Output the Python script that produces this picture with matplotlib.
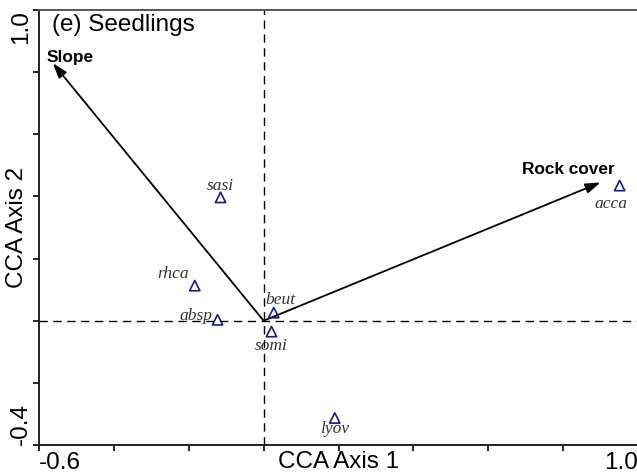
import matplotlib
matplotlib.use("Agg")
import matplotlib.pyplot as plt

# Data
species = ["sasi", "acca", "rhca", "absp", "beut", "somi", "lyov"]
sp_x = [-0.115, 0.951, -0.184, -0.123, 0.027, 0.021, 0.190]
sp_y = [0.397, 0.435, 0.113, 0.003, 0.026, -0.035, -0.313]

env_names = ["Slope", "Rock cover"]
env_x = [-0.563, 0.900]
env_y = [0.829, 0.445]

xticks = [-0.6, -0.4, -0.2, 0.0, 0.2, 0.4, 0.6, 0.8, 1.0]
xticklabels = ["-0.6", "", "", "", "", "", "", "", "1.0"]
yticks = [-0.4, -0.2, 0.0, 0.2, 0.4, 0.6, 0.8, 1.0]
yticklabels = ["-0.4", "", "", "", "", "", "", "1.0"]

W, H = 637, 474
fig = plt.figure(figsize=(W / 100, H / 100), dpi=100)
ax = fig.add_axes([39 / W, (H - 445) / H, 599 / W, 435 / H])
ax.set_xlim(-0.6, 1.0)
ax.set_ylim(-0.4, 1.0)

sans = "Liberation Sans"
serif = "Liberation Serif"

# dashed zero lines
ax.axhline(0, color="black", lw=1.0, ls=(0, (6, 4)), zorder=1)
ax.axvline(0, color="black", lw=1.0, ls=(0, (6, 4)), zorder=1)

# environmental arrows
for name, ex, ey in zip(env_names, env_x, env_y):
    ax.annotate("", xy=(ex, ey), xytext=(0, 0),
                arrowprops=dict(arrowstyle="-|>,head_length=0.9,head_width=0.3",
                                color="black", lw=1.3, shrinkA=0, shrinkB=0),
                zorder=3)

ax.text(-0.581, 0.848, env_names[0], family=sans,
        fontweight="bold", fontsize=12.4, ha="left", va="center")
ax.text(0.937, 0.487, env_names[1], family=sans,
        fontweight="bold", fontsize=12.4, ha="right", va="center")

# species points
ax.scatter(sp_x, sp_y, marker="^", s=55, facecolors="none",
           edgecolors="#1a1a8c", linewidths=1.2, zorder=4)

# (dx, dy, ha) in data units, baseline-anchored
offsets = {
    "sasi": (0.0, 0.023, "center"),
    "acca": (-0.023, -0.071, "center"),
    "rhca": (-0.057, 0.023, "center"),
    "absp": (-0.013, 0.0, "right"),
    "beut": (0.019, 0.029, "center"),
    "somi": (0.0, -0.058, "center"),
    "lyov": (0.0, -0.048, "center"),
}
for name, x, y in zip(species, sp_x, sp_y):
    dx, dy, ha = offsets[name]
    ax.text(x + dx, y + dy, name, family=serif, style="italic",
            fontsize=12.5, color="#333333", ha=ha, va="baseline", zorder=5)

ax.text(-0.565, 0.952, "(e) Seedlings", family=sans, fontsize=17.5,
        ha="left", va="center")

ax.set_xticks(xticks)
ax.set_xticklabels(xticklabels, family=sans, fontsize=17.5)
ax.set_yticks(yticks)
ax.set_yticklabels(yticklabels, family=sans, fontsize=17.5, rotation=90)
ax.tick_params(direction="out", length=4, width=1.2, color="black")
ax.tick_params(axis="x", pad=1)
ax.tick_params(axis="y", pad=1)

xl = ax.get_xticklabels()
xl[0].set_ha("left")
xl[-1].set_ha("right")
yl = ax.get_yticklabels()
for t in yl:
    t.set_ha("right")
yl[0].set_va("bottom")
yl[-1].set_va("top")

ax.set_xlabel("CCA Axis 1", family=sans, fontsize=17.5)
ax.set_ylabel("CCA Axis 2", family=sans, fontsize=17.5)
ax.xaxis.set_label_coords(0.5, -17 / 435)
ax.xaxis.label.set_va("center")
ax.yaxis.set_label_coords(-22 / 599, 0.5)
ax.yaxis.label.set_va("center")
ax.yaxis.label.set_ha("center")

for s in ["left", "bottom"]:
    ax.spines[s].set_linewidth(1.4)
    ax.spines[s].set_color("#222222")
ax.spines["top"].set_linewidth(1.4)
ax.spines["top"].set_color("#555555")
ax.spines["right"].set_visible(False)

fig.savefig("out.png", dpi=100)
